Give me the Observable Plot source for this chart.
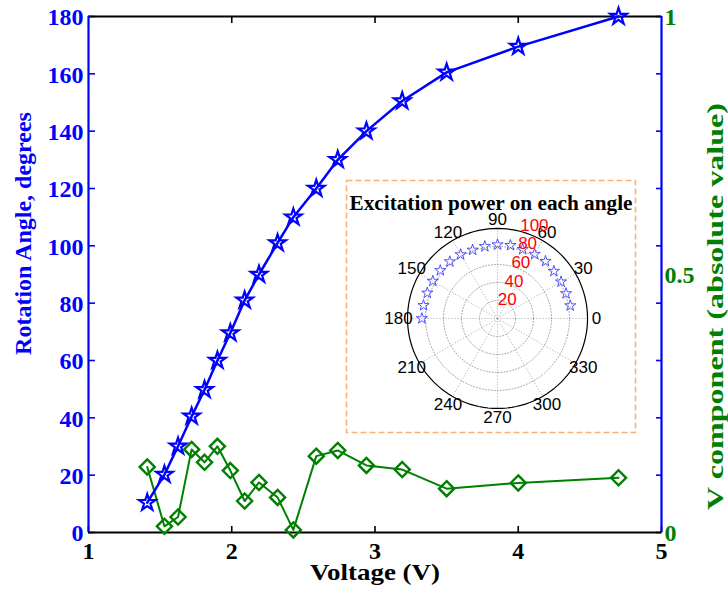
<!DOCTYPE html>
<html>
<head>
<meta charset="utf-8">
<script src="https://cdn.jsdelivr.net/npm/d3@7"></script>
<script src="https://cdn.jsdelivr.net/npm/@observablehq/plot@0.6"></script>
<style>
  html, body { margin: 0; padding: 0; background: white; }
  #wrap { position: relative; width: 728px; height: 596px; }
  #inset { position: absolute; left: 346px; top: 180px; }
</style>
</head>
<body>
<div id="wrap"><div id="main"></div><div id="inset"></div></div>
<script>
// ---- data ----
const voltage = [1.41, 1.53, 1.625, 1.72, 1.81, 1.90, 1.99, 2.09, 2.19, 2.32, 2.43, 2.59, 2.74, 2.94, 3.19, 3.50, 4.00, 4.70];
const rotationAngle = [10.4, 20.2, 30.1, 40.5, 49.8, 60, 69.6, 81, 90, 101, 110, 120, 130, 140, 150.5, 160.5, 169.5, 180];
const vComponent = [0.127, 0.012, 0.030, 0.161, 0.136, 0.167, 0.120, 0.061, 0.097, 0.068, 0.005, 0.148, 0.159, 0.130, 0.122, 0.085, 0.096, 0.106];
const xTicks = [1, 2, 3, 4, 5];
const xTopTicks = [2, 3, 4];
const yLeftTicks = [0, 20, 40, 60, 80, 100, 120, 140, 160, 180];
const yRightTicks = [0, 0.5, 1];
const xLabel = "Voltage (V)";
const yLeftLabel = "Rotation Angle, degrees";
const yRightLabel = "V component (absolute value)";

const insetTitle = "Excitation power on each angle";
const polarAngles = [10, 20, 30, 40, 50, 60, 70, 80, 90, 100, 110, 120, 130, 140, 150, 160, 170, 180];
const polarPower = [82, 81, 81.5, 81.7, 83, 82.5, 81.7, 82.5, 82, 81.3, 81, 82, 82.4, 83, 83, 83, 83.5, 84];
const polarAngleTicks = [0, 30, 60, 90, 120, 150, 180, 210, 240, 270, 300, 330];
const polarRadiusTicks = [20, 40, 60, 80, 100];

// ---- main chart ----
const BLUE = "#0000ff", GREEN = "#008000";
const serif = "'Liberation Serif', 'Times New Roman', Times, serif";
const data = voltage.map((v, i) => ({v, angle: rotationAngle[i], vc: vComponent[i]}));
const yMax = 180;

const main = Plot.plot({
  width: 728, height: 596,
  marginLeft: 88, marginRight: 67, marginTop: 16, marginBottom: 64,
  x: {domain: [1, 5]},
  y: {domain: [0, yMax]},
  style: {fontFamily: serif, fontWeight: "bold", background: "white", overflow: "visible"},
  marks: [
    Plot.axisY(yLeftTicks, {anchor: "left", tickSize: -7, fill: "none", stroke: BLUE, strokeWidth: 1.6, label: null}),
    Plot.axisY(yLeftTicks, {anchor: "left", tickSize: 0, tickPadding: 5, fill: BLUE, fontSize: 24, dy: 1, label: null}),
    Plot.axisY(yLeftTicks, {anchor: "right", tickSize: -6, fill: "none", stroke: BLUE, strokeWidth: 1.6, label: null}),
    Plot.axisY(yRightTicks.map(d => d * yMax), {anchor: "right", tickSize: 0, tickPadding: 3, fill: GREEN, fontSize: 24, dy: 1,
      tickFormat: d => String(d / yMax), label: null}),
    Plot.axisX(xTicks, {anchor: "bottom", tickSize: -6, fill: "none", stroke: "black", strokeWidth: 1.6, label: null}),
    Plot.axisX(xTicks, {anchor: "bottom", tickSize: 0, tickPadding: 9, fill: "black", fontSize: 24, tickFormat: d => String(d), label: null}),
    Plot.axisX(xTopTicks, {anchor: "top", tickSize: -6, fill: "none", stroke: "black", strokeWidth: 1.6, label: null}),
    Plot.ruleY([0, yMax], {stroke: "black", strokeWidth: 2.2}),
    Plot.ruleX([1, 5], {stroke: BLUE, strokeWidth: 2.2}),
    Plot.line(data, {x: "v", y: d => d.vc * yMax, stroke: GREEN, strokeWidth: 2}),
    Plot.dot(data, {x: "v", y: d => d.vc * yMax, symbol: "diamond2", r: 6.8, stroke: GREEN, strokeWidth: 2.4, fill: "none"}),
    Plot.line(data, {x: "v", y: "angle", stroke: BLUE, strokeWidth: 2.5}),
    Plot.dot(data, {x: "v", y: "angle", symbol: "star", r: 5.2, stroke: BLUE, strokeWidth: 2.2, fill: "none"}),
    Plot.text([xLabel], {frameAnchor: "bottom", dy: 47, fontSize: 23, fill: "black", className: "xlab"}),
    Plot.text([yLeftLabel], {frameAnchor: "left", textAnchor: "middle", rotate: -90, dx: -65, dy: -41, fontSize: 24, fill: BLUE, className: "ylab-left"}),
    Plot.text([yRightLabel], {frameAnchor: "right", textAnchor: "middle", rotate: -90, dx: 54, dy: 32, fontSize: 24, fill: GREEN, className: "ylab-right"})
  ]
});
document.getElementById("main").appendChild(main);
d3.select(main).selectAll(".ylab-right text").attr("textLength", 407).attr("lengthAdjust", "spacingAndGlyphs");
d3.select(main).selectAll(".xlab text").attr("textLength", 130).attr("lengthAdjust", "spacingAndGlyphs");

// ---- inset polar chart ----
const rad = a => a * Math.PI / 180;
const rings = polarRadiusTicks.flatMap(r => d3.range(0, 361, 3).map(a => ({r, x: r * Math.cos(rad(a)), y: r * Math.sin(rad(a))})));
const rMax = d3.max(polarRadiusTicks);
const spokes = polarAngleTicks.map(a => ({x: rMax * Math.cos(rad(a)), y: rMax * Math.sin(rad(a))}));
const angleLabels = polarAngleTicks.map(a => ({a, x: 1.1 * rMax * Math.cos(rad(a)), y: 1.1 * rMax * Math.sin(rad(a))}));
const radiusLabels = polarRadiusTicks.map(r => ({r, x: 1.1 * r * Math.cos(rad(70)), y: 1.1 * r * Math.sin(rad(70))}));
const pts = polarAngles.map((a, i) => ({x: polarPower[i] * Math.cos(rad(a)), y: polarPower[i] * Math.sin(rad(a))}));

const inset = Plot.plot({
  width: 289, height: 252, margin: 0,
  x: {domain: [-167.8, 153.3], axis: null},
  y: {domain: [-126.7, 153.3], axis: null},
  style: {fontFamily: "'Liberation Sans', Arial, sans-serif", background: "white", overflow: "visible"},
  marks: [
    Plot.link(spokes, {x1: 0, y1: 0, x2: "x", y2: "y", stroke: "#999", strokeWidth: 0.9, strokeDasharray: "1,2"}),
    Plot.line(rings.filter(d => d.r < rMax), {x: "x", y: "y", z: "r", stroke: "#999", strokeWidth: 0.9, strokeDasharray: "1,2"}),
    Plot.line(rings.filter(d => d.r === rMax), {x: "x", y: "y", stroke: "black", strokeWidth: 1.2}),
    Plot.dot(pts, {x: "x", y: "y", symbol: "star", r: 3.5, stroke: "#2a2aff", strokeWidth: 0.8, fill: "none"}),
    Plot.text(angleLabels, {x: "x", y: "y", text: d => String(d.a), fontSize: 17, fill: "black"}),
    Plot.text(radiusLabels, {x: "x", y: "y", text: d => String(d.r), fontSize: 17, fill: "#ff0000", dx: 3}),
    Plot.text([insetTitle], {frameAnchor: "top", dy: 15, fontSize: 20, fontWeight: "bold", fontFamily: serif, fill: "black", className: "inset-title"}),
    Plot.frame({stroke: "#f7b27a", strokeWidth: 1.6, strokeDasharray: "6,3"})
  ]
});
document.getElementById("inset").appendChild(inset);
d3.select(inset).selectAll(".inset-title text").attr("textLength", 283).attr("lengthAdjust", "spacingAndGlyphs");
</script>
</body>
</html>
